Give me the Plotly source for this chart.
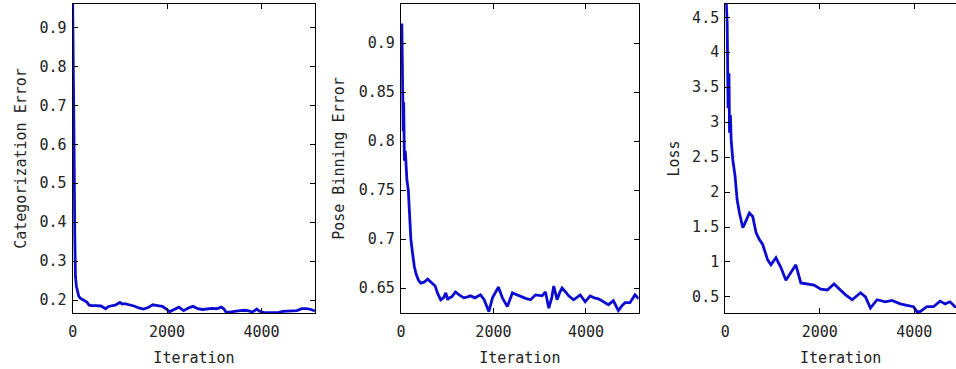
import plotly.graph_objects as go
from plotly.subplots import make_subplots

# ---------------- data ----------------
cat_iter = [0, 15, 30, 45, 60, 80, 100, 130, 160, 200, 250, 300, 350, 400, 500, 600, 700, 750,
            800, 900, 1000, 1050, 1100, 1200, 1300, 1400, 1500, 1600, 1700, 1800, 1900, 2000,
            2050, 2150, 2250, 2350, 2450, 2550, 2650, 2750, 2850, 2950, 3050, 3150, 3200, 3250,
            3350, 3450, 3550, 3650, 3750, 3800, 3900, 3950, 4050, 4150, 4250, 4350, 4450, 4550,
            4650, 4750, 4850, 4950, 5050, 5130]
cat_err = [0.97, 0.83, 0.60, 0.37, 0.26, 0.235, 0.225, 0.21, 0.205, 0.202, 0.2, 0.195, 0.187,
           0.186, 0.186, 0.185, 0.178, 0.183, 0.185, 0.187, 0.194, 0.19, 0.191, 0.188, 0.185,
           0.18, 0.177, 0.181, 0.188, 0.186, 0.184, 0.176, 0.17, 0.176, 0.182, 0.173, 0.18,
           0.184, 0.178, 0.176, 0.178, 0.179, 0.178, 0.182, 0.178, 0.169, 0.17, 0.172, 0.173,
           0.174, 0.172, 0.169, 0.177, 0.172, 0.168, 0.168, 0.168, 0.168, 0.171, 0.172, 0.172,
           0.173, 0.178, 0.178, 0.176, 0.172]

pose_iter = [20, 30, 40, 50, 60, 75, 95, 130, 160, 190, 215, 250, 290, 330, 380, 430, 500, 580,
             680, 740, 790, 860, 920, 970, 1010, 1040, 1100, 1180, 1260, 1360, 1440, 1505, 1600,
             1720, 1800, 1900, 1980, 2107, 2194, 2301, 2409, 2552, 2695, 2803, 2910, 3053, 3125,
             3197, 3260, 3304, 3376, 3430, 3483, 3560, 3626, 3734, 3800, 3877, 3984, 4092, 4180,
             4271, 4380, 4486, 4594, 4701, 4780, 4845, 4952, 5060, 5140]
pose_err = [0.92, 0.86, 0.88, 0.81, 0.84, 0.78, 0.79, 0.76, 0.75, 0.72, 0.70, 0.686, 0.672, 0.664,
            0.658, 0.655, 0.656, 0.659, 0.655, 0.652, 0.645, 0.638, 0.64, 0.645, 0.638, 0.64,
            0.641, 0.646, 0.643, 0.64, 0.641, 0.642, 0.64, 0.643, 0.638, 0.626, 0.64, 0.651,
            0.64, 0.631, 0.645, 0.642, 0.6395, 0.638, 0.643, 0.642, 0.646, 0.6295, 0.64, 0.652,
            0.638, 0.645, 0.65, 0.646, 0.642, 0.638, 0.64, 0.643, 0.636, 0.642, 0.64, 0.639,
            0.636, 0.633, 0.637, 0.627, 0.632, 0.635, 0.635, 0.643, 0.639]

loss_iter = [20, 42, 60, 80, 91, 110, 126, 161, 210, 252, 302, 340, 372, 421, 470, 512, 582,
             652, 723, 793, 898, 968, 1074, 1179, 1284, 1389, 1495, 1600, 1740, 1880, 2021,
             2161, 2302, 2407, 2547, 2688, 2863, 2968, 3073, 3214, 3389, 3530, 3705, 3845,
             3986, 4056, 4126, 4267, 4407, 4547, 4653, 4758, 4863, 4950]
loss = [4.75, 4.4, 3.2, 3.7, 2.85, 3.1, 2.75, 2.46, 2.22, 1.89, 1.70, 1.6, 1.49, 1.56, 1.65,
        1.70, 1.65, 1.42, 1.32, 1.25, 1.03, 0.96, 1.06, 0.92, 0.74, 0.86, 0.96, 0.70, 0.68,
        0.67, 0.61, 0.6, 0.686, 0.62, 0.53, 0.46, 0.56, 0.5, 0.34, 0.46, 0.43, 0.45, 0.40,
        0.38, 0.36, 0.29, 0.29, 0.36, 0.36, 0.44, 0.40, 0.43, 0.36, 0.35]

x_ticks = [0, 2000, 4000]
x_tick_text = ["0", "2000", "4000"]
cat_ticks = [0.2, 0.3, 0.4, 0.5, 0.6, 0.7, 0.8, 0.9]
cat_tick_text = ["0.2", "0.3", "0.4", "0.5", "0.6", "0.7", "0.8", "0.9"]
pose_ticks = [0.65, 0.7, 0.75, 0.8, 0.85, 0.9]
pose_tick_text = ["0.65", "0.7", "0.75", "0.8", "0.85", "0.9"]
loss_ticks = [0.5, 1, 1.5, 2, 2.5, 3, 3.5, 4, 4.5]
loss_tick_text = ["0.5", "1", "1.5", "2", "2.5", "3", "3.5", "4", "4.5"]

# ---------------- figure ----------------
W, H = 956, 369
FONT = "DejaVu Sans Mono"
BLUE = "#0c0cd0"
TXT = "#222"

fig = make_subplots(rows=1, cols=3)
series = [(cat_iter, cat_err), (pose_iter, pose_err), (loss_iter, loss)]
for i, (xs, ys) in enumerate(series, start=1):
    fig.add_trace(go.Scatter(x=xs, y=ys, mode="lines", line=dict(color=BLUE, width=2.8),
                             showlegend=False), row=1, col=i)

domains = [[68 / W, 312 / W], [398 / W, 637 / W], [724 / W, 1.0]]
x_ranges = [[0, 5140], [0, 5140], [0, 4884]]
y_cfg = [
    ([0.167, 0.96], cat_ticks, cat_tick_text, "Categorization Error", True, 9),
    ([0.6245, 0.94], pose_ticks, pose_tick_text, "Pose Binning Error", True, 10),
    ([0.27, 4.69], loss_ticks, loss_tick_text, "Loss", False, 8),
]

common = dict(showgrid=False, zeroline=False, showline=True, linecolor="black", linewidth=1,
              ticks="inside", ticklen=5, tickcolor="black", tickwidth=1,
              tickfont=dict(family=FONT, size=15, color=TXT))

for i in range(3):
    xa = "xaxis" if i == 0 else f"xaxis{i + 1}"
    ya = "yaxis" if i == 0 else f"yaxis{i + 1}"
    rng, tv, tt, title, mirror_y, stand = y_cfg[i]
    fig.layout[xa].update(domain=domains[i], range=x_ranges[i], tickvals=x_ticks,
                          ticktext=x_tick_text, mirror="ticks", ticklabelstandoff=5,
                          title=dict(text="Iteration", font=dict(family=FONT, size=15, color=TXT),
                                     standoff=12),
                          **common)
    fig.layout[ya].update(range=rng, tickvals=tv, ticktext=tt,
                          mirror="ticks" if mirror_y else False, ticklabelstandoff=2,
                          title=dict(text=title, font=dict(family=FONT, size=15, color=TXT),
                                     standoff=stand),
                          **common)

fig.update_layout(width=W, height=H, margin=dict(l=0, r=0, t=4, b=56),
                  plot_bgcolor="white", paper_bgcolor="white")

fig.write_html("out.html")
